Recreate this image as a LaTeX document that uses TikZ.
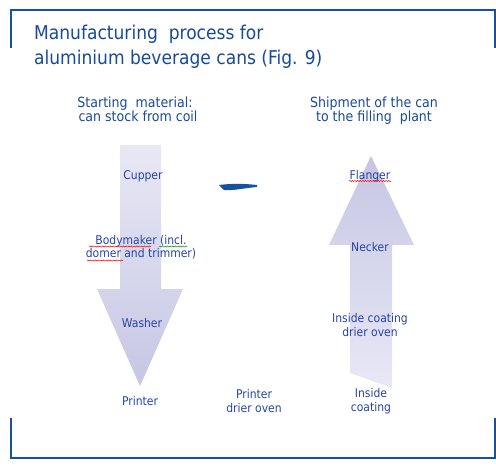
\documentclass[tikz,border=0pt]{standalone}
\usepackage{fontspec}
\setmainfont{DejaVu Sans Condensed}
\usetikzlibrary{decorations.pathmorphing}
\definecolor{frameblue}{RGB}{22,82,160}
\definecolor{titleblue}{RGB}{24,74,156}
\definecolor{labelblue}{RGB}{38,68,168}
\definecolor{arrowlight}{RGB}{232,232,245}
\definecolor{arrowdark}{RGB}{198,198,228}
\begin{document}
\begin{tikzpicture}[x=1pt,y=-1pt,
    lbl/.style={text=labelblue,font=\fontsize{12}{13.5}\selectfont,align=center,inner sep=0pt},
    sub/.style={text=titleblue,font=\fontsize{14}{15}\selectfont,anchor=base,inner sep=0pt},
    ttl/.style={text=titleblue,font=\fontsize{19}{22}\selectfont,anchor=base west,inner sep=0pt},
    squig/.style={decorate,decoration={snake,amplitude=0.6pt,segment length=2.6pt},line width=0.5pt}]
  \useasboundingbox (0,0) rectangle (496,467);
  % frame
  \draw[frameblue,line width=1.2pt] (11,48) -- (11,10) -- (495,10) -- (495,48);
  \draw[frameblue,line width=1.2pt] (11,418) -- (11,458) -- (495,458) -- (495,418);
  % title
  \node[ttl] (title1) at (34,39) {Manufacturing\ \ process for};
  \node[ttl] (title2) at (34,64) {aluminium beverage cans (Fig. 9)};
  \node[sub] (start1) at (135,107) {Starting\ \ material:};
  \node[sub] (start2) at (138,121) {can stock from coil};
  \node[sub] (ship1) at (374,107) {Shipment of the can};
  \node[sub] (ship2) at (374,121) {to the filling\ \ plant};
  % arrows
  \shade[top color=arrowlight,bottom color=arrowdark]
    (120,145) -- (161,145) -- (161,289) -- (183,289) -- (140,386) -- (97,289) -- (120,289) -- cycle;
  \shade[top color=arrowdark,bottom color=arrowlight]
    (371,156) -- (414,245) -- (392,245) -- (392,388) -- (350,373) -- (350,245) -- (329,245) -- cycle;
  % dash
  \fill[frameblue] (219,185) .. controls (235,183) and (248,184) .. (257,185)
    -- (257,187) .. controls (245,188) and (232,191) .. (224,190) -- cycle;
  % steps
  \node[lbl] (cupper) at (143,176) {Cupper};
  \node[lbl] (bodymaker) at (141,247) {Bodymaker (incl.\\domer and trimmer)};
  \node[lbl] (washer) at (142,323) {Washer};
  \node[lbl] (printer) at (140,401) {Printer};
  \node[lbl] (printoven) at (254,401) {Printer\\drier oven};
  \node[lbl] (inside) at (371,401) {Inside\\coating};
  \node[lbl] (insideoven) at (370,325) {Inside coating\\drier oven};
  \node[lbl] (necker) at (370,247) {Necker};
  \node[lbl] (flanger) at (370,176) {Flanger};
  % spelling marks
  \draw[squig,red] (89,246.5) -- (151,246.5);
  \draw[squig,green!60!black] (159,246.5) -- (187,246.5);
  \draw[squig,red] (87,260.5) -- (123,260.5);
  \draw[squig,red] (349,181) -- (391,181);
\end{tikzpicture}
\end{document}
